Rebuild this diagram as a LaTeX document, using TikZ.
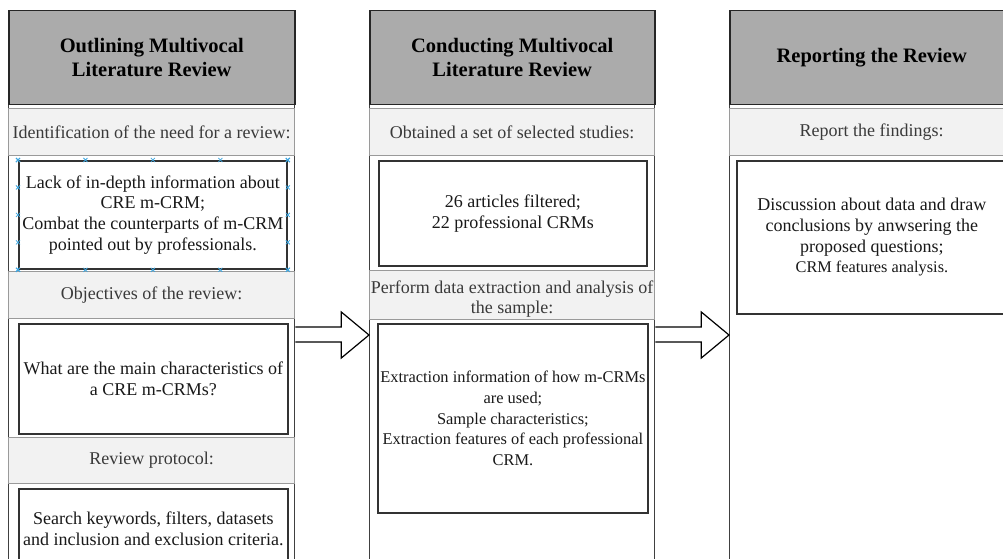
\documentclass[tikz,border=0pt]{standalone}
\usepackage{fontspec}
\setmainfont{Liberation Serif}
\usetikzlibrary{calc}
\definecolor{hdrgray}{HTML}{ABABAB}
\definecolor{bandgray}{HTML}{F2F2F2}
\definecolor{bandline}{HTML}{9A9A9A}
\definecolor{boxline}{HTML}{333333}
\definecolor{bandtext}{HTML}{3A3A3A}
\definecolor{handle}{HTML}{3BA5E0}
\tikzset{
 colframe/.style={draw=black!75, line width=1.3pt, fill=white, anchor=north west, inner sep=0pt},
 hdr/.style={draw=black!85, line width=1.5pt, fill=hdrgray, anchor=north west, inner sep=0pt, align=center, font=\fontsize{20.5}{24}\selectfont\bfseries},
 band/.style={draw=bandline, line width=1.2pt, fill=bandgray, anchor=north west, inner sep=0pt, align=center, text=bandtext, font=\fontsize{18}{20.5}\selectfont},
 bandlabel/.style={inner sep=0pt, align=center, text=bandtext, font=\fontsize{18}{20.5}\selectfont},
 cbox/.style={draw=boxline, line width=1.8pt, fill=white, anchor=north west, inner sep=0pt, align=center, text=black!90, font=\fontsize{18}{20.7}\selectfont},
 smalltext/.style={font=\fontsize{16.4}{20.7}\selectfont},
 blkarrow/.style={draw=black, line width=1.2pt, fill=white, line join=miter},
 hnd/.style={draw=handle, line width=0.8pt},
}
\begin{document}
\begin{tikzpicture}[x=1pt,y=-1pt]
\useasboundingbox (0,0) rectangle (1003,559);
\clip (0,0) rectangle (1003,559);
% column frames
\node[colframe, minimum width=286pt, minimum height=570pt] (c1) at (8,10) {};
\node[colframe, minimum width=285pt, minimum height=570pt] (c2) at (369,10) {};
\node[colframe, minimum width=284pt, minimum height=570pt] (c3) at (729,10) {};
% headers
\node[hdr, minimum width=286pt, minimum height=94pt] (h1) at (8,10) {Outlining Multivocal\\Literature Review};
\node[hdr, minimum width=285pt, minimum height=94pt] (h2) at (369,10) {Conducting Multivocal\\Literature Review};
\node[hdr, minimum width=284pt, minimum height=94pt] (h3) at (729,10) {Reporting the Review};
% column 1
\node[band, minimum width=286pt, minimum height=47pt] (b11) at (8,108) {Identification of the need for a review:};
\node[cbox, minimum width=268pt, minimum height=108pt] (x11) at (18,160) {Lack of in-depth information about\\CRE m-CRM;\\Combat the counterparts of m-CRM\\pointed out by professionals.};
\node[band, minimum width=286pt, minimum height=47pt] (b12) at (8,271) {Objectives of the review:};
\node[cbox, minimum width=269pt, minimum height=110pt] (x12) at (18,323) {What are the main characteristics of\\a CRE m-CRMs?};
\node[band, minimum width=286pt, minimum height=46pt] (b13) at (8,437) {Review protocol:};
\node[cbox, minimum width=269pt, minimum height=80pt] (x13) at (18,488) {Search keywords, filters, datasets\\and inclusion and exclusion criteria.};
% column 2
\node[band, minimum width=285pt, minimum height=47pt] (b21) at (369,108) {Obtained a set of selected studies:};
\node[cbox, minimum width=268pt, minimum height=105pt] (x21) at (378,160) {26 articles filtered;\\22 professional CRMs};
\node[band, minimum width=285pt, minimum height=49pt] (b22) at (369,270) {};
\node[bandlabel] (b22t) at ($(b22.center)+(0,4)$) {Perform data extraction and analysis of\\the sample:};
\node[cbox, smalltext, minimum width=270pt, minimum height=189pt] (x22) at (377,323) {Extraction information of how m-CRMs\\are used;\\Sample characteristics;\\Extraction features of each professional\\CRM.};
% column 3
\node[band, minimum width=284pt, minimum height=47pt] (b31) at (729,108) {Report the findings:};
\node[cbox, minimum width=270pt, minimum height=153pt] (x31) at (736,160) {Discussion about data and draw\\conclusions by anwsering the\\proposed questions;\\{\fontsize{16.3}{20.7}\selectfont CRM features analysis.}};
% selection handles
\foreach \t in {0,0.25,0.5,0.75,1}{
  \draw[hnd] ($(x11.north west)!\t!(x11.north east)$) +(-2,-2) -- +(2,2) +(-2,2) -- +(2,-2);
  \draw[hnd] ($(x11.south west)!\t!(x11.south east)$) +(-2,-2) -- +(2,2) +(-2,2) -- +(2,-2);
  \draw[hnd] ($(x11.north west)!\t!(x11.south west)$) +(-2,-2) -- +(2,2) +(-2,2) -- +(2,-2);
  \draw[hnd] ($(x11.north east)!\t!(x11.south east)$) +(-2,-2) -- +(2,2) +(-2,2) -- +(2,-2);
}
% block arrows
\draw[blkarrow] ($(c1.north east)+(0,317)$) -- ++(46,0) -- ++(0,-15) -- ($(c2.north west)+(0,325)$) -- ($(c1.north east)+(46,348)$) -- ++(0,-16) -- ($(c1.north east)+(0,332)$);
\draw[blkarrow] ($(c2.north east)+(0,317)$) -- ++(46,0) -- ++(0,-15) -- ($(c3.north west)+(0,325)$) -- ($(c2.north east)+(46,348)$) -- ++(0,-16) -- ($(c2.north east)+(0,332)$);
\end{tikzpicture}
\end{document}
